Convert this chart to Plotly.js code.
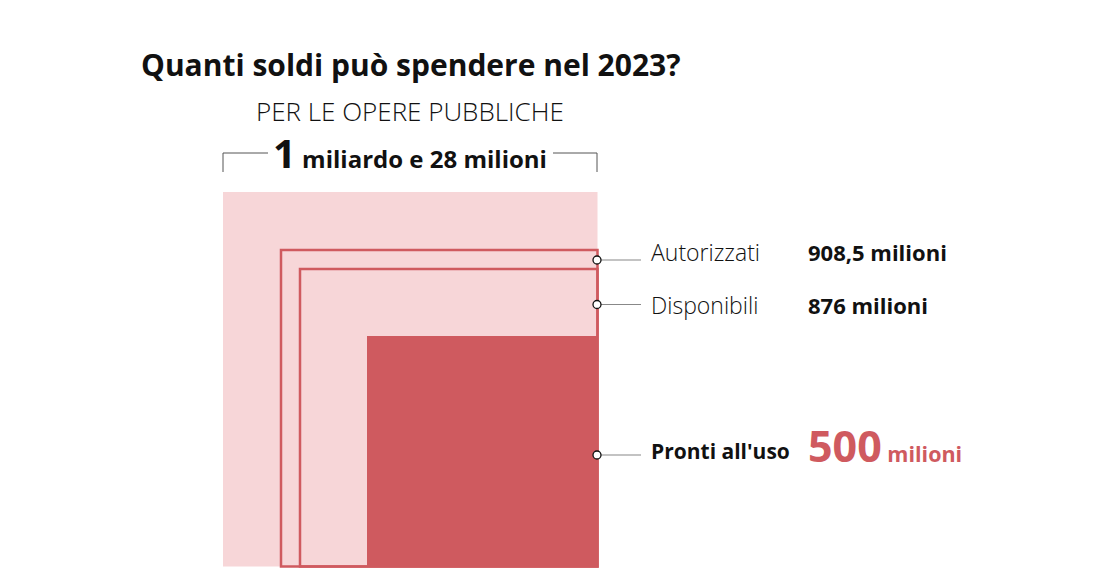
<!DOCTYPE html>
<html><head><meta charset="utf-8">
<script src="https://cdn.plot.ly/plotly-3.0.1.min.js"></script>
<style>html,body{margin:0;padding:0;background:#fff}#chart{width:1108px;height:581px}</style>
</head><body><div id="chart"></div>
<script>
const categories = ["Autorizzati", "Disponibili", "Pronti all'uso"];
const valueLabels = ["908,5", "876", "500"];
const totalLabel = ["1", "miliardo e 28 milioni"];
const unit = "milioni";

const pink = "#f7d6d8", red = "#cf5a5f", ink = "#111";
const F = "'Open Sans', Lato, sans-serif";

// squares (illustrative geometry, in page-pixel axis units)
const R = 597.5, B = 566.5;
const shapes = [
  {type:"rect", x0:223, x1:R, y0:192, y1:B, fillcolor:pink, line:{width:0}, layer:"below"},
  {type:"rect", x0:281, x1:R, y0:250, y1:B, fillcolor:"rgba(0,0,0,0)", line:{color:red, width:2.5}, layer:"below"},
  {type:"rect", x0:300, x1:R, y0:269, y1:B, fillcolor:"rgba(0,0,0,0)", line:{color:red, width:2.5}, layer:"below"},
  {type:"rect", x0:367, x1:R, y0:336, y1:B, fillcolor:red, line:{width:0}, layer:"below"},
  // bracket
  {type:"line", x0:223, x1:223, y0:153, y1:172, line:{color:"#555", width:1}},
  {type:"line", x0:223, x1:268, y0:153, y1:153, line:{color:"#555", width:1}},
  {type:"line", x0:553, x1:597, y0:153, y1:153, line:{color:"#555", width:1}},
  {type:"line", x0:597, x1:597, y0:153, y1:172, line:{color:"#555", width:1}}
];
const dotY = [260, 304.5, 455];
dotY.forEach(y => shapes.push({type:"line", x0:597, x1:641, y0:y, y1:y, line:{color:"#888", width:1.2}, layer:"below"}));

const annotations = [
  {x:139, y:64, text:"Quanti soldi può spendere nel 2023?", font:{family:F, size:30, color:ink, weight:700}, xanchor:"left"},
  {x:410, y:111, text:"PER LE OPERE PUBBLICHE", font:{family:F, size:26, color:ink, weight:300}, xanchor:"center"},
  {x:410, y:152, text:"<span style='font-size:40px'>"+totalLabel[0]+"</span> "+totalLabel[1], font:{family:F, size:24, color:ink, weight:700}, xanchor:"center"},
  {x:649, y:252, text:categories[0], font:{family:F, size:23, color:ink, weight:300}, xanchor:"left"},
  {x:806, y:252, text:valueLabels[0]+" "+unit, font:{family:F, size:22, color:ink, weight:700}, xanchor:"left"},
  {x:649, y:305, text:categories[1], font:{family:F, size:23, color:ink, weight:300}, xanchor:"left"},
  {x:806, y:305, text:valueLabels[1]+" "+unit, font:{family:F, size:22, color:ink, weight:700}, xanchor:"left"},
  {x:649, y:451, text:categories[2], font:{family:F, size:21, color:ink, weight:700}, xanchor:"left"},
  {x:806, y:445, text:"<span style='font-size:43px'>"+valueLabels[2]+"</span> "+unit, font:{family:F, size:21.5, color:red, weight:700}, xanchor:"left"}
].map(a => Object.assign({xref:"x", yref:"y", showarrow:false, yanchor:"middle"}, a));

const dots = {
  x: dotY.map(() => 597), y: dotY, type:"scatter", mode:"markers", hoverinfo:"skip",
  marker:{size:8, color:"#fff", line:{color:"#111", width:1.3}}
};

Plotly.newPlot("chart", [dots], {
  width:1108, height:581, margin:{l:0, r:0, t:0, b:0},
  paper_bgcolor:"#fff", plot_bgcolor:"#fff", showlegend:false,
  xaxis:{range:[0,1108], visible:false, fixedrange:true},
  yaxis:{range:[581,0], visible:false, fixedrange:true},
  shapes, annotations
}, {displayModeBar:false, staticPlot:true});
</script></body></html>
